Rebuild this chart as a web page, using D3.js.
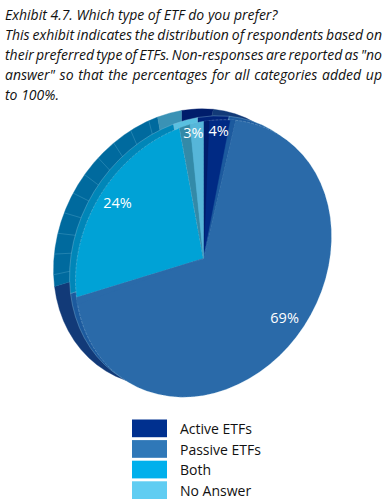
<!DOCTYPE html>
<html>
<head>
<meta charset="utf-8">
<script src="https://cdn.jsdelivr.net/npm/d3@7"></script>
<style>
html,body{margin:0;padding:0;background:#fff;}
svg{display:block;}
text{font-family:"Open Sans",sans-serif;}
</style>
</head>
<body>
<div id="chart"></div>
<script>
const titleLines=['Exhibit 4.7. Which type of ETF do you prefer?','This exhibit indicates the distribution of respondents based on','their preferred type of ETFs. Non-responses are reported as "no','answer" so that the percentages for all categories added up','to 100%.'];
const justified=[false,true,true,true,false];
const categories=['Active ETFs','Passive ETFs','Both','No Answer'];
const values=[4,69,24,3];
const labels=['4%','69%','24%','3%'];
const legendColors=['#00308f','#2f78b8','#00b0ec','#60cdf2'];
const faceColors=['#002a84','#2a6aa9','#00a2d6','#56b6d9'];
const midColors=['#00237a','#1c5a9e','#0086b8','#5ac0e0'];
const backColors=['#001d6b','#123a78','#006a9e','#3a92b5'];
const bandColors=['#1c5a9e','#2a6aa9','#338aa8'];

const W=388,H=501,toRad=Math.PI/180;
const svg=d3.select('#chart').append('svg').attr('width',W).attr('height',H);

titleLines.forEach((t,i)=>{
  const el=svg.append('text').attr('x',5).attr('y',20+i*19.9).attr('fill','#111').style('font-size','14px').style('font-style','italic').text(t);
  if(justified[i]){
    const gaps=t.split(' ').length-1,w=el.node().getComputedTextLength();
    el.style('word-spacing',((382-5-w)/gaps)+'px');
  }
});

// unit pie squashed and skewed to fake the 3D view
const cx=203.5,cy=258.5,rx=128,ry=137,skew=-22;
const tilt=(dx,dy)=>'matrix('+rx+','+skew+',0,'+ry+','+(cx+dx)+','+(cy+dy)+')';
const arcs=d3.pie().sort(null)(values);
const arc=d3.arc().innerRadius(0).outerRadius(1);
const layer=(dx,dy)=>svg.append('g').attr('transform',tilt(dx,dy));
const wedge=(g,a0,a1,fill)=>g.append('path').attr('d',arc({startAngle:a0,endAngle:a1})).attr('fill',fill)
  .attr('stroke',fill).attr('stroke-width',0.4).attr('vector-effect','non-scaling-stroke');

const back=layer(-22,-11);
arcs.forEach((d,i)=>wedge(back,d.startAngle,d.endAngle,backColors[i]));

// facet lines on the rim
const rim=layer(-22,-11);
d3.range(arcs[2].startAngle+5*toRad,arcs[2].endAngle,8.6*toRad).forEach(a=>{
  rim.append('line').attr('x1',Math.sin(a)*0.84).attr('y1',-Math.cos(a)*0.84).attr('x2',Math.sin(a)).attr('y2',-Math.cos(a))
    .attr('stroke','#4fa3c7').attr('stroke-width',0.6).attr('stroke-opacity',0.7).attr('vector-effect','non-scaling-stroke');
});

const mid=layer(-6,-4);
arcs.forEach((d,i)=>{
  wedge(mid,d.startAngle,d.endAngle,midColors[i])
    .attr('stroke','#8fc3de').attr('stroke-width',0.6).attr('stroke-opacity',0.6);
});

const face=layer(0,0);
arcs.forEach((d,i)=>{
  wedge(face,d.startAngle,d.endAngle,faceColors[i])
    .attr('stroke','#b9d6e8').attr('stroke-width',0.6).attr('stroke-opacity',0.5).attr('stroke-dasharray','3 1');
});
// wedge side walls
wedge(face,0,2.5*toRad,'#001d6b');
wedge(face,12.2*toRad,arcs[0].endAngle,bandColors[0]);
wedge(face,arcs[1].endAngle-3*toRad,arcs[1].endAngle,bandColors[1]);
wedge(face,arcs[2].endAngle,354*toRad,bandColors[2]);
wedge(face,354*toRad,2*Math.PI,faceColors[3]);

// data labels, placed along a radius of the same tilted pie
const labelSpots=[[1.0,0.92],[0.97,0.72],[0.82,0.87],[0.75,0.93]];
arcs.forEach((d,i)=>{
  const a=(d.startAngle+d.endAngle)/2,s=labelSpots[i];
  svg.append('text').attr('text-anchor','middle').attr('fill','#fff')
    .attr('x',cx+rx*Math.sin(a)*s[0]-1).attr('y',cy+skew*Math.sin(a)*s[0]-ry*Math.cos(a)*s[1]+5)
    .style('font-size','14.5px').style('font-weight','500').text(labels[i]);
});

const legY=d3.scaleBand().domain(categories).range([419.5,499]).paddingInner(0.14);
categories.forEach((c,i)=>{
  svg.append('rect').attr('x',132).attr('y',legY(c)).attr('width',35).attr('height',legY.bandwidth()).attr('fill',legendColors[i]);
  svg.append('text').attr('x',180).attr('y',legY(c)+14.5).attr('fill','#111').style('font-size','14px').text(c);
});
</script>
</body>
</html>
